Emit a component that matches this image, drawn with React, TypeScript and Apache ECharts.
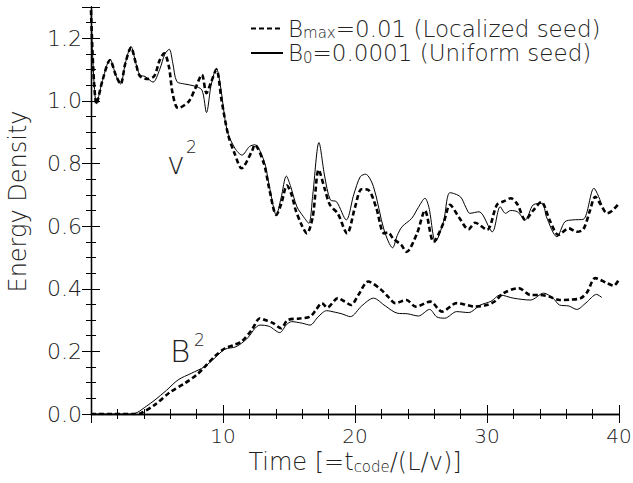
import React, { useEffect, useRef } from 'react';
import * as echarts from 'echarts';

// v^2, uniform seed (solid)
const v2UniT = [0, 0.42, 0.9, 1.44, 1.9, 2.24, 2.6, 3.03, 3.4, 3.7, 4.1, 4.7, 5.2, 5.6, 5.93, 6.2, 6.5, 7.1, 7.8, 8.4, 8.75, 9.1, 9.5, 9.8, 10.3, 10.9, 11.44, 12.0, 12.4, 13.1, 13.5, 14.04, 14.4, 14.8, 15.1, 15.6, 16.1, 16.5, 16.8, 17.27, 17.7, 18.13, 18.6, 19.34, 19.9, 20.4, 20.8, 21.4, 22.2, 22.85, 23.2, 23.56, 24.3, 24.8, 25.3, 25.6, 26.1, 26.7, 27.2, 27.98, 28.4, 28.7, 29.4, 30.4, 31.0, 31.4, 31.8, 32.3, 32.9, 33.5, 34.2, 34.5, 35.3, 35.9, 36.5, 37.3, 38.1, 38.7];
const v2UniV = [1.29, 0.99, 1.07, 1.133, 1.08, 1.054, 1.12, 1.174, 1.12, 1.083, 1.078, 1.06, 1.1, 1.15, 1.165, 1.12, 1.062, 1.054, 1.048, 1.035, 0.963, 1.05, 1.104, 1.05, 0.907, 0.849, 0.827, 0.854, 0.86, 0.81, 0.73, 0.636, 0.69, 0.76, 0.73, 0.662, 0.63, 0.609, 0.7, 0.867, 0.76, 0.684, 0.678, 0.62, 0.7, 0.758, 0.766, 0.726, 0.588, 0.531, 0.57, 0.598, 0.625, 0.66, 0.689, 0.66, 0.55, 0.614, 0.707, 0.694, 0.66, 0.641, 0.646, 0.582, 0.662, 0.641, 0.65, 0.646, 0.62, 0.668, 0.673, 0.63, 0.566, 0.614, 0.62, 0.622, 0.721, 0.668];

// v^2, localized seed (dashed)
const v2LocT = [0, 0.42, 0.9, 1.44, 1.9, 2.24, 2.6, 3.03, 3.4, 3.7, 4.3, 4.8, 5.2, 5.55, 5.9, 6.2, 6.6, 7.4, 7.9, 8.4, 8.75, 9.1, 9.5, 9.9, 10.4, 10.9, 11.4, 12.2, 12.4, 13.1, 13.5, 14.04, 14.4, 14.85, 15.2, 15.5, 16.0, 16.35, 16.8, 17.25, 17.7, 18.1, 18.7, 19.4, 20.0, 20.5, 21.0, 21.6, 22.2, 22.5, 22.9, 23.5, 23.9, 24.7, 25.3, 25.95, 26.7, 27.2, 27.85, 28.6, 29.1, 30.0, 30.75, 31.3, 31.8, 32.3, 32.9, 33.5, 34.1, 34.8, 35.4, 36.2, 36.8, 37.3, 37.8, 38.2, 38.6, 39.1, 39.5, 40.0];
const v2LocV = [1.29, 0.99, 1.07, 1.13, 1.08, 1.054, 1.12, 1.17, 1.12, 1.08, 1.07, 1.08, 1.13, 1.152, 1.11, 1.02, 0.977, 0.998, 1.04, 1.083, 1.025, 1.06, 1.1, 1.0, 0.89, 0.83, 0.785, 0.84, 0.86, 0.8, 0.72, 0.636, 0.67, 0.73, 0.7, 0.652, 0.6, 0.577, 0.63, 0.78, 0.72, 0.668, 0.64, 0.577, 0.66, 0.718, 0.716, 0.66, 0.577, 0.58, 0.56, 0.54, 0.518, 0.577, 0.65, 0.55, 0.61, 0.668, 0.63, 0.59, 0.611, 0.588, 0.668, 0.68, 0.689, 0.67, 0.62, 0.65, 0.677, 0.614, 0.572, 0.593, 0.582, 0.59, 0.65, 0.694, 0.67, 0.641, 0.65, 0.673];

// B^2, uniform seed (solid)
const b2UniT = [0, 3.0, 3.5, 4.2, 4.85, 5.7, 6.6, 7.6, 8.6, 9.4, 10.15, 11.0, 11.8, 12.8, 13.5, 14.3, 14.8, 15.2, 16.0, 16.6, 17.2, 17.85, 18.5, 19.0, 19.65, 20.5, 21.4, 22.3, 23.2, 24.0, 24.8, 25.65, 26.2, 26.8, 27.7, 28.6, 29.5, 30.3, 31.0, 32.0, 33.3, 34.3, 35.0, 35.5, 36.2, 36.8, 37.5, 38.3, 38.7];
const b2UniV = [0, 0, 0.005, 0.025, 0.045, 0.075, 0.109, 0.13, 0.151, 0.18, 0.207, 0.215, 0.24, 0.284, 0.28, 0.26, 0.285, 0.295, 0.29, 0.284, 0.31, 0.33, 0.325, 0.32, 0.311, 0.345, 0.37, 0.345, 0.322, 0.32, 0.313, 0.334, 0.31, 0.306, 0.327, 0.324, 0.348, 0.36, 0.38, 0.37, 0.364, 0.386, 0.37, 0.348, 0.345, 0.334, 0.355, 0.382, 0.372];

// B^2, localized seed (dashed)
const b2LocT = [0, 3.3, 3.8, 4.85, 6.0, 7.1, 8.0, 8.6, 9.4, 10.15, 10.8, 11.4, 12.2, 12.8, 13.2, 13.8, 14.4, 14.9, 15.8, 16.6, 17.0, 17.5, 17.9, 18.7, 19.2, 19.7, 20.25, 21.0, 21.9, 22.5, 23.05, 23.9, 24.6, 25.7, 26.6, 27.7, 28.3, 29.0, 30.0, 30.6, 31.25, 32.4, 33.3, 34.0, 34.7, 35.5, 36.3, 37.1, 37.6, 38.2, 39.1, 39.6, 40.0];
const b2LocV = [0, 0, 0.003, 0.03, 0.07, 0.098, 0.125, 0.15, 0.185, 0.21, 0.22, 0.231, 0.27, 0.306, 0.3, 0.29, 0.274, 0.3, 0.305, 0.311, 0.33, 0.354, 0.34, 0.37, 0.36, 0.348, 0.38, 0.423, 0.4, 0.375, 0.354, 0.364, 0.343, 0.359, 0.327, 0.354, 0.35, 0.343, 0.348, 0.36, 0.386, 0.402, 0.38, 0.38, 0.375, 0.364, 0.365, 0.37, 0.39, 0.434, 0.418, 0.41, 0.43];

const xTicks = { min: 0, max: 40, interval: 10 };
const yTicks = { min: 0, max: 1.3, interval: 0.2 };

const LOC = 'Bmax=0.01 (Localized seed)';
const UNI = 'B0=0.0001 (Uniform seed)';

const pair = (t: number[], v: number[]) => t.map((x, i) => [x, v[i]]);

export default function App() {
  const ref = useRef<HTMLDivElement>(null);
  useEffect(() => {
    const chart = echarts.init(ref.current!, null, { renderer: 'svg' });
    const font = 'DejaVu Sans';
    const txt = '#222';
    const fw = 200;
    const axisCommon = {
      type: 'value',
      axisLine: { show: true, lineStyle: { color: '#000', width: 1.3 } },
      axisTick: { show: true, inside: true, length: 9, lineStyle: { color: '#000', width: 1 } },
      minorTick: { show: true, length: 5, lineStyle: { color: '#000', width: 1 } },
      splitLine: { show: false },
    };
    const lineSeries = (name: string, data: number[][], dashed: boolean) => ({
      type: 'line',
      name,
      data,
      smooth: 0.3,
      symbol: 'none',
      lineStyle: dashed
        ? { color: '#000', width: 2.6, type: [5, 3] }
        : { color: '#000', width: 1 },
      itemStyle: { color: '#000' },
      z: dashed ? 3 : 2,
    });
    chart.setOption({
      animation: false,
      backgroundColor: '#fff',
      grid: { left: 91, right: 14, top: 7, bottom: 69, outerBoundsMode: 'none', containLabel: false },
      xAxis: [
        {
          ...axisCommon,
          ...xTicks,
          position: 'bottom',
          minorTick: { ...axisCommon.minorTick, splitNumber: 5 },
          axisLabel: { showMinLabel: false, margin: 12, fontSize: 20, lineHeight: 20, fontFamily: font, fontWeight: fw, color: txt },
          name: 'Time [=t{s|code}/(L/v)]',
          nameLocation: 'middle',
          nameGap: 36,
          nameMoveOverlap: false,
          nameTextStyle: {
            fontFamily: font,
            fontWeight: fw,
            color: txt,
            rich: {
              s: { fontSize: 15, fontFamily: font, fontWeight: fw, color: txt, lineHeight: 15, verticalAlign: 'bottom' },
            },
            fontSize: 24,
            lineHeight: 24,
          },
        },
        {
          ...axisCommon,
          ...xTicks,
          position: 'top',
          minorTick: { ...axisCommon.minorTick, splitNumber: 5 },
          axisLabel: { show: false },
        },
      ],
      yAxis: [
        {
          ...axisCommon,
          ...yTicks,
          position: 'left',
          minorTick: { ...axisCommon.minorTick, splitNumber: 4 },
          axisLabel: {
            showMaxLabel: false,
            margin: 9,
            fontSize: 22,
            fontFamily: font,
            fontWeight: fw,
            color: txt,
            formatter: (v: number) => v.toFixed(1),
          },
          name: 'Energy Density',
          nameLocation: 'middle',
          nameGap: 61,
          nameMoveOverlap: false,
          nameTextStyle: { fontFamily: font, fontWeight: fw, color: txt, fontSize: 24, padding: [0, 0, 0, 18] },
        },
        {
          ...axisCommon,
          ...yTicks,
          position: 'right',
          minorTick: { ...axisCommon.minorTick, splitNumber: 4 },
          axisLabel: { show: false },
        },
      ],
      legend: {
        orient: 'vertical',
        left: 245,
        top: 12,
        itemWidth: 32,
        itemHeight: 14,
        itemGap: 1,
        selectedMode: false,
        itemStyle: { opacity: 0 },
        data: [LOC, UNI],
        formatter: (n: string) =>
          n === LOC
            ? '{n|B}{s|max}{n|=0.01 (Localized seed)}'
            : '{n|B}{s|0}{n|=0.0001 (Uniform seed)}',
        textStyle: {
          fontFamily: font,
          fontWeight: fw,
          color: txt,
          rich: {
            n: { fontSize: 23, lineHeight: 24, fontFamily: font, fontWeight: fw, color: txt },
            s: { fontSize: 15, lineHeight: 15, fontFamily: font, fontWeight: fw, color: txt, verticalAlign: 'bottom' },
          },
        },
      },
      graphic: [
        { type: 'text', left: 167, top: 148, style: { text: 'v', fontSize: 30, fontFamily: font, fontWeight: fw, fill: txt } },
        { type: 'text', left: 186, top: 138, style: { text: '2', fontSize: 17, fontFamily: font, fontWeight: fw, fill: txt } },
        { type: 'text', left: 170, top: 335, style: { text: 'B', fontSize: 31, fontFamily: font, fontWeight: fw, fill: txt } },
        { type: 'text', left: 194, top: 331, style: { text: '2', fontSize: 17, fontFamily: font, fontWeight: fw, fill: txt } },
      ],
      series: [
        lineSeries(UNI, pair(v2UniT, v2UniV), false),
        lineSeries(LOC, pair(v2LocT, v2LocV), true),
        lineSeries(UNI, pair(b2UniT, b2UniV), false),
        lineSeries(LOC, pair(b2LocT, b2LocV), true),
      ],
    });
    return () => chart.dispose();
  }, []);
  return <div ref={ref} style={{ position: 'fixed', left: 0, top: 0, width: 633, height: 483 }} />;
}
